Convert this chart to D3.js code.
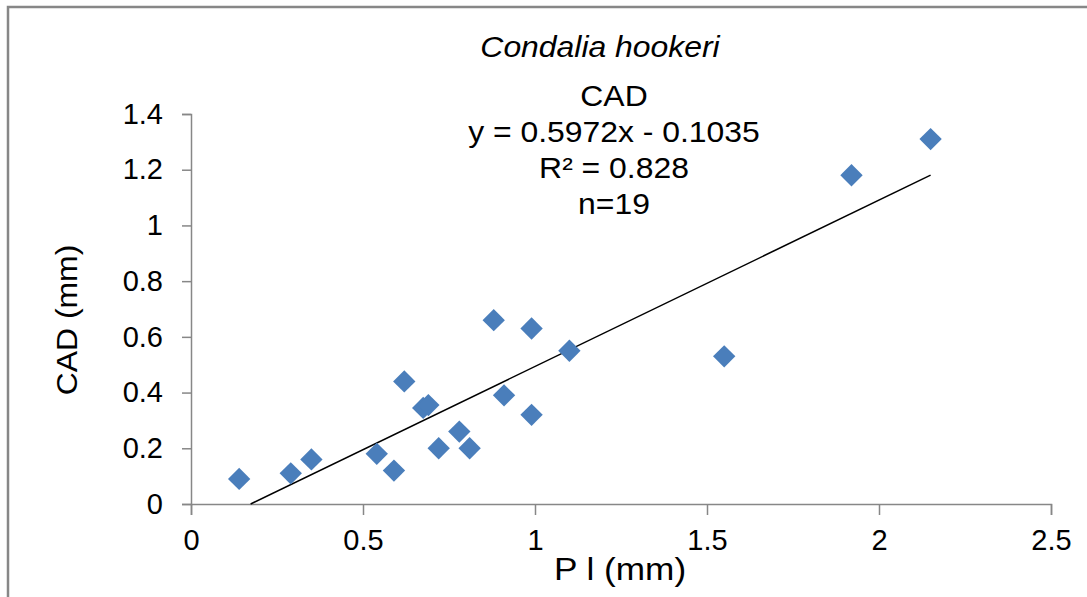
<!DOCTYPE html>
<html>
<head>
<meta charset="utf-8">
<script src="https://cdn.jsdelivr.net/npm/d3@7"></script>
<style>
  html, body { margin: 0; padding: 0; background: #fff; }
  svg { display: block; font-family: Arial, "Liberation Sans", sans-serif; }
</style>
</head>
<body>
<svg id="chart"></svg>
<script>
// P l (mm) vs CAD (mm), Condalia hookeri
const plValues = [0.14, 0.29, 0.35, 0.54, 0.59, 0.62, 0.675, 0.69, 0.72, 0.78, 0.81, 0.88, 0.91, 0.99, 0.99, 1.10, 1.55, 1.92, 2.15]
const cadValues = [0.09, 0.11, 0.16, 0.18, 0.12, 0.44, 0.345, 0.355, 0.20, 0.26, 0.20, 0.66, 0.39, 0.63, 0.32, 0.55, 0.53, 1.18, 1.31]

const xTicks = [0, 0.5, 1, 1.5, 2, 2.5]
const yTicks = [0, 0.2, 0.4, 0.6, 0.8, 1, 1.2, 1.4]

// trendline as reported on the chart
const slope = 0.5972
const intercept = -0.1035
const statLines = ['CAD', 'y = 0.5972x - 0.1035', 'R\u00b2 = 0.828', 'n=19']

const width = 1087
const height = 597
const margin = { top: 114, right: 36, bottom: 93, left: 191 }
const fontSize = 29
// the original text is a bit wider than plain Arial
const stretch = 1.1

const svg = d3.select('#chart').attr('width', width).attr('height', height)

// outer chart frame
svg
  .append('rect')
  .attr('x', 8)
  .attr('y', 7)
  .attr('width', width + 20)
  .attr('height', height + 20)
  .attr('fill', 'none')
  .attr('stroke', '#878787')
  .attr('stroke-width', 2.5)

const x = d3
  .scaleLinear()
  .domain([0, 2.5])
  .range([margin.left, width - margin.right])

const y = d3
  .scaleLinear()
  .domain([0, 1.4])
  .range([height - margin.bottom, margin.top])

// axes
const xAxis = svg
  .append('g')
  .attr('transform', `translate(0,${y(0)})`)
  .call(
    d3.axisBottom(x).tickValues(xTicks).tickFormat(d3.format('')).tickSize(11).tickPadding(14)
  )

const yAxis = svg
  .append('g')
  .attr('transform', `translate(${x(0)},0)`)
  .call(
    d3.axisLeft(y).tickValues(yTicks).tickFormat(d3.format('')).tickSize(9).tickPadding(19)
  )

;[xAxis, yAxis].forEach((axis) => {
  axis.select('.domain').attr('stroke', '#878787').attr('stroke-width', 1.5)
  axis.selectAll('.tick line').attr('stroke', '#878787').attr('stroke-width', 1.5)
  axis
    .selectAll('.tick text')
    .attr('fill', '#000')
    .style('font-size', fontSize + 'px')
    .style('font-family', 'Arial, "Liberation Sans", sans-serif')
})

// trendline, from where it crosses y=0 up to the largest x
const xStart = Math.max(d3.min(plValues), -intercept / slope)
const xEnd = d3.max(plValues)
svg
  .append('line')
  .attr('x1', x(xStart))
  .attr('y1', y(slope * xStart + intercept))
  .attr('x2', x(xEnd))
  .attr('y2', y(slope * xEnd + intercept))
  .attr('stroke', '#000')
  .attr('stroke-width', 1.5)

// diamond markers
const points = plValues.map((v, i) => ({ x: v, y: cadValues[i] }))
const diamond = d3.symbol().type(d3.symbolSquare).size(250)

svg
  .append('g')
  .selectAll('path')
  .data(points)
  .join('path')
  .attr('d', diamond)
  .attr('transform', (d) => `translate(${x(d.x)},${y(d.y)}) rotate(45)`)
  .attr('fill', '#4a7ebb')

// title
svg
  .append('text')
  .attr('transform', `translate(600,57) scale(${stretch},1)`)
  .attr('text-anchor', 'middle')
  .style('font-size', '29px')
  .style('font-style', 'italic')
  .text('Condalia hookeri')

// trendline label
svg
  .append('g')
  .selectAll('text')
  .data(statLines)
  .join('text')
  .attr('transform', (d, i) => `translate(614,${106 + i * 36}) scale(${stretch},1)`)
  .attr('text-anchor', 'middle')
  .style('font-size', fontSize + 'px')
  .text((d) => d)

// axis titles
svg
  .append('text')
  .attr('transform', `translate(620,580) scale(${stretch},1)`)
  .attr('text-anchor', 'middle')
  .style('font-size', '32px')
  .text('P l (mm)')

svg
  .append('text')
  .attr('transform', `translate(77,320) rotate(-90) scale(${stretch},1)`)
  .attr('text-anchor', 'middle')
  .style('font-size', '29px')
  .text('CAD (mm)')
</script>
</body>
</html>
